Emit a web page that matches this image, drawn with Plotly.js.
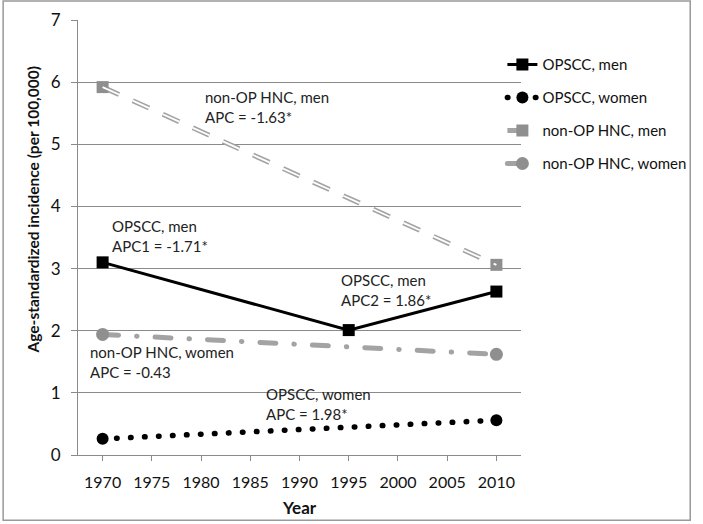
<!DOCTYPE html>
<html>
<head>
<meta charset="utf-8">
<script src="https://cdn.plot.ly/plotly-3.0.1.min.js"></script>
<style>
  html, body { margin: 0; padding: 0; background: #fff; }
  #chart { width: 703px; height: 524px; }
  .scatterlayer .trace:nth-child(2) path.js-line,
  .scatterlayer .trace:nth-child(5) path.js-line,
  .legend .groups:nth-child(2) .legendlines path,
  .legend .groups:nth-child(4) .legendlines path { stroke-linecap: round; }
</style>
</head>
<body>
<div id="chart"></div>
<script>
// ---- data ----
const opsccMenYears = [1970, 1995, 2010];
const opsccMen = [3.10, 2.01, 2.63];
const opsccWomenYears = [1970, 2010];
const opsccWomen = [0.26, 0.56];
const nonOpMenYears = [1970, 2010];
const nonOpMen = [5.92, 3.06];
const nonOpWomenYears = [1970, 2010];
const nonOpWomen = [1.94, 1.62];

const seriesNames = ['OPSCC, men', 'OPSCC, women', 'non-OP HNC, men', 'non-OP HNC, women'];
const xTicks = [1970, 1975, 1980, 1985, 1990, 1995, 2000, 2005, 2010];
const yTicks = [0, 1, 2, 3, 4, 5, 6, 7];

const labelTexts = [
  'non-OP HNC, men<br>APC = -1.63*',
  'OPSCC, men<br>APC1 = -1.71*',
  'OPSCC, men<br>APC2 = 1.86*',
  'non-OP HNC, women<br>APC = -0.43',
  'OPSCC, women<br>APC = 1.98*'
];
const labelX = [1980.2, 1970.7, 1994.0, 1968.5, 1986.4];
const labelY = [5.6, 3.53, 2.65, 1.5, 0.82];

const FONT = 'Lato, "Open Sans", sans-serif';
const GRAY_M = '#8f8f8f';
const GRAY_L = '#a3a3a3';

const traces = [
  {
    x: opsccMenYears, y: opsccMen, name: seriesNames[0], legendgroup: 'g1',
    mode: 'lines+markers', type: 'scatter',
    line: { color: '#000', width: 3 },
    marker: { symbol: 'square', size: 12, color: '#000' }
  },
  {
    x: opsccWomenYears, y: opsccWomen, name: seriesNames[1], legendgroup: 'g2',
    mode: 'lines+markers', type: 'scatter',
    line: { color: '#000', width: 5.5, dash: '0.5px,13.5px' },
    marker: { symbol: 'circle', size: 12, color: '#000' }
  },
  {
    x: nonOpMenYears, y: nonOpMen, name: seriesNames[2], legendgroup: 'g3',
    mode: 'lines+markers', type: 'scatter',
    line: { color: GRAY_L, width: 5, dash: '18px,15px' },
    marker: { symbol: 'square', size: 12, color: GRAY_M }
  },
  {
    x: nonOpMenYears, y: nonOpMen, name: seriesNames[2], legendgroup: 'g3',
    showlegend: false, hoverinfo: 'skip',
    mode: 'lines', type: 'scatter',
    line: { color: '#fff', width: 1.8, dash: '18px,15px' }
  },
  {
    x: nonOpWomenYears, y: nonOpWomen, name: seriesNames[3], legendgroup: 'g4',
    mode: 'lines+markers', type: 'scatter',
    line: { color: GRAY_L, width: 5, dash: '16px,18px,0.5px,18px' },
    marker: { symbol: 'circle', size: 13, color: GRAY_M }
  }
];

const annotations = labelTexts.map((t, i) => ({
  text: t, x: labelX[i], y: labelY[i], xref: 'x', yref: 'y',
  xanchor: 'left', yanchor: 'middle', align: 'left', showarrow: false,
  font: { family: FONT, size: 15, color: '#222' }
}));
annotations.push({
  text: '<b>Age-standardized incidence (per 100,000)</b>',
  xref: 'paper', yref: 'paper', x: -0.102, y: 0.564, textangle: -90,
  xanchor: 'center', yanchor: 'middle', showarrow: false,
  font: { family: FONT, size: 15.5, color: '#111' }
});
annotations.push({
  text: '<b>Year</b>',
  xref: 'paper', yref: 'paper', x: 0.5, y: -0.1206,
  xanchor: 'center', yanchor: 'middle', showarrow: false,
  font: { family: FONT, size: 17, color: '#111' }
});

const layout = {
  width: 703, height: 524,
  margin: { l: 78, r: 175, t: 20, b: 69 },
  paper_bgcolor: '#fff', plot_bgcolor: '#fff',
  font: { family: FONT, size: 16, color: '#111' },
  showlegend: true,
  legend: {
    x: 0.958, y: 0.935, xanchor: 'left', yanchor: 'top',
    traceorder: 'grouped', tracegroupgap: 10.5,
    font: { family: FONT, size: 15, color: '#111' },
    bgcolor: 'rgba(0,0,0,0)', borderwidth: 0
  },
  xaxis: {
    range: [1967.5, 2012.5], tickvals: xTicks, ticktext: xTicks.map(String),
    showgrid: false, zeroline: false, showline: true, linecolor: '#8a8a8a', linewidth: 1,
    ticks: 'outside', ticklen: 5, tickcolor: '#8a8a8a', ticklabelstandoff: 8,
    tickfont: { family: FONT, size: 16, color: '#111' }, fixedrange: true
  },
  yaxis: {
    range: [0, 7], tickvals: yTicks, ticktext: yTicks.map(String),
    showgrid: true, gridcolor: '#8a8a8a', gridwidth: 1,
    zeroline: false, showline: true, linecolor: '#8a8a8a', linewidth: 1,
    ticks: 'outside', ticklen: 6, tickcolor: '#8a8a8a', ticklabelstandoff: 7,
    tickfont: { family: FONT, size: 17, color: '#111' }, fixedrange: true
  },
  annotations: annotations,
  shapes: [{
    type: 'rect', xref: 'paper', yref: 'paper',
    x0: -0.169, x1: 1.382, y0: -0.150, y1: 1.0436,
    line: { color: '#999', width: 1.5 }, fillcolor: 'rgba(0,0,0,0)', layer: 'below'
  }]
};

Plotly.newPlot('chart', traces, layout, { displayModeBar: false, staticPlot: true });
</script>
</body>
</html>
